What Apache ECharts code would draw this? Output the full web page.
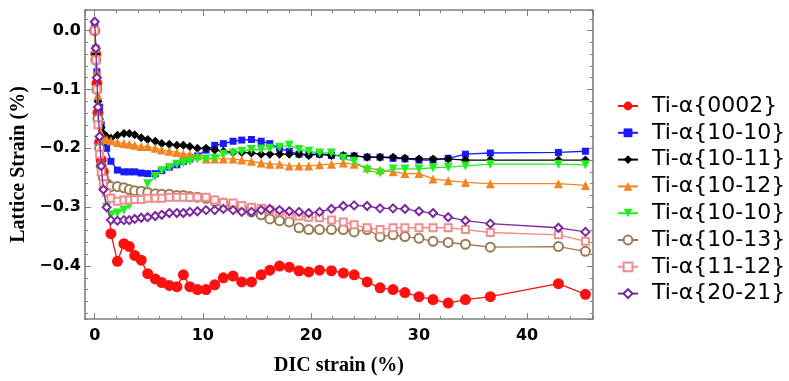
<!DOCTYPE html>
<html>
<head>
<meta charset="utf-8">
<script src="https://cdn.jsdelivr.net/npm/echarts@6/dist/echarts.min.js"></script>
<style>
  html, body { margin: 0; padding: 0; background: #fff; }
  #chart { width: 789px; height: 381px; }
</style>
</head>
<body>
<div id="chart"></div>
<script>
// DIC strain (%) at each measurement step, shared by all reflections
const strain = [0, 0.1, 0.2, 0.3, 0.45, 0.6, 0.8, 1.1,
  1.5, 2.1, 2.7, 3.2, 3.7, 4.3, 4.9, 5.6,
  6.2, 6.9, 7.6, 8.2, 8.8, 9.5, 10.3, 11.1,
  11.9, 12.8, 13.6, 14.5, 15.4, 16.2, 17.1, 18.0,
  18.9, 19.8, 20.8, 21.9, 23.0, 24.0, 25.2, 26.4,
  27.6, 28.7, 30.0, 31.3, 32.7, 34.3, 36.6, 42.9,
  45.4];

// Lattice strain (%) per reflection
const ti0002 = [0, -0.04, -0.09, -0.14, -0.19, -0.22, -0.24, -0.26,
  -0.345, -0.392, -0.362, -0.367, -0.382, -0.39, -0.413, -0.422,
  -0.428, -0.433, -0.435, -0.415, -0.435, -0.44, -0.44, -0.432,
  -0.42, -0.417, -0.427, -0.427, -0.415, -0.407, -0.4, -0.402,
  -0.408, -0.41, -0.407, -0.408, -0.412, -0.415, -0.427, -0.437,
  -0.44, -0.445, -0.452, -0.457, -0.463, -0.457, -0.452, -0.43,
  -0.448];
const ti1010a = [0.01, -0.03, -0.07, -0.1, -0.13, -0.16, -0.19, -0.2,
  -0.222, -0.237, -0.24, -0.24, -0.24, -0.242, -0.243, -0.243,
  -0.238, -0.232, -0.228, -0.222, -0.218, -0.213, -0.203, -0.195,
  -0.192, -0.188, -0.186, -0.185, -0.188, -0.192, -0.2, -0.205,
  -0.21, -0.21, -0.21, -0.212, -0.213, -0.213, -0.215, -0.215,
  -0.217, -0.218, -0.22, -0.22, -0.217, -0.21, -0.208, -0.207,
  -0.205];
const ti1011 = [0, -0.04, -0.08, -0.12, -0.15, -0.165, -0.175, -0.18,
  -0.183, -0.178, -0.175, -0.175, -0.177, -0.182, -0.185, -0.188,
  -0.192, -0.193, -0.195, -0.195, -0.197, -0.2, -0.2, -0.203,
  -0.205, -0.207, -0.207, -0.208, -0.21, -0.21, -0.21, -0.21,
  -0.21, -0.212, -0.21, -0.212, -0.212, -0.213, -0.215, -0.215,
  -0.215, -0.217, -0.218, -0.218, -0.218, -0.22, -0.22, -0.22,
  -0.22];
const ti1012 = [0, -0.03, -0.07, -0.11, -0.15, -0.175, -0.183, -0.185,
  -0.187, -0.19, -0.192, -0.193, -0.195, -0.197, -0.197, -0.2,
  -0.203, -0.205, -0.207, -0.21, -0.21, -0.212, -0.218, -0.218,
  -0.218, -0.218, -0.22, -0.222, -0.225, -0.227, -0.227, -0.23,
  -0.23, -0.23, -0.228, -0.227, -0.225, -0.227, -0.233, -0.237,
  -0.24, -0.243, -0.243, -0.252, -0.255, -0.258, -0.26, -0.26,
  -0.263];
const ti1010b = [0, -0.05, -0.1, -0.15, -0.2, -0.24, -0.27, -0.3,
  -0.313, -0.31, -0.305, -0.297, -0.285, -0.275, -0.26, -0.248,
  -0.238, -0.233, -0.227, -0.225, -0.222, -0.218, -0.218, -0.217,
  -0.21, -0.208, -0.205, -0.202, -0.202, -0.2, -0.198, -0.195,
  -0.202, -0.205, -0.208, -0.208, -0.217, -0.222, -0.237, -0.242,
  -0.235, -0.235, -0.235, -0.233, -0.232, -0.23, -0.227, -0.227,
  -0.228];
const ti1013 = [0, -0.05, -0.1, -0.15, -0.2, -0.23, -0.25, -0.262,
  -0.265, -0.265, -0.267, -0.27, -0.272, -0.273, -0.275, -0.277,
  -0.278, -0.278, -0.28, -0.28, -0.282, -0.283, -0.285, -0.29,
  -0.293, -0.298, -0.303, -0.308, -0.313, -0.32, -0.323, -0.325,
  -0.335, -0.338, -0.338, -0.338, -0.338, -0.342, -0.338, -0.35,
  -0.347, -0.35, -0.353, -0.358, -0.36, -0.363, -0.368, -0.367,
  -0.375];
const ti1112 = [0, -0.05, -0.1, -0.16, -0.21, -0.24, -0.26, -0.275,
  -0.285, -0.29, -0.288, -0.288, -0.287, -0.287, -0.285, -0.285,
  -0.285, -0.283, -0.283, -0.283, -0.283, -0.283, -0.283, -0.288,
  -0.292, -0.293, -0.297, -0.3, -0.302, -0.305, -0.308, -0.312,
  -0.315, -0.317, -0.318, -0.322, -0.325, -0.33, -0.335, -0.338,
  -0.335, -0.335, -0.335, -0.335, -0.335, -0.338, -0.343, -0.347,
  -0.358];
const ti2021 = [0.015, -0.03, -0.08, -0.13, -0.18, -0.23, -0.27, -0.3,
  -0.322, -0.323, -0.322, -0.322, -0.32, -0.318, -0.317, -0.315,
  -0.313, -0.31, -0.31, -0.31, -0.308, -0.307, -0.305, -0.305,
  -0.303, -0.305, -0.308, -0.308, -0.305, -0.303, -0.305, -0.307,
  -0.308, -0.31, -0.308, -0.303, -0.298, -0.297, -0.298, -0.302,
  -0.302, -0.303, -0.307, -0.31, -0.317, -0.323, -0.328, -0.335,
  -0.342];

const seriesNames = ['Ti-α{0002}', 'Ti-α{10-10}', 'Ti-α{10-11}', 'Ti-α{10-12}',
  'Ti-α{10-10} ', 'Ti-α{10-13}', 'Ti-α{11-12}', 'Ti-α{20-21}'];
const seriesValues = [ti0002, ti1010a, ti1011, ti1012, ti1010b, ti1013, ti1112, ti2021];

const styles = [
  { color: '#ff1010', symbol: 'circle', size: 11 },
  { color: '#1a1aff', symbol: 'rect', size: 7 },
  { color: '#000000', symbol: 'diamond', size: 9 },
  { color: '#f5841f', symbol: 'triangle', size: 9 },
  { color: '#22ee22', symbol: 'triangle', size: 9, rotate: 180 },
  { color: '#9b7b56', symbol: 'emptyCircle', size: 9 },
  { color: '#f08c8c', symbol: 'emptyRect', size: 7 },
  { color: '#7a2a9e', symbol: 'emptyDiamond', size: 8 }
];

const frameColor = '#7f7f7f';
const tickFont = { fontFamily: 'DejaVu Sans', fontWeight: 'bold', fontSize: 16, color: '#000' };
const titleFont = { fontFamily: 'Liberation Serif', fontWeight: 'bold', fontSize: 20, color: '#000' };

function frameAxis(pos, opts) {
  return Object.assign({
    type: 'value',
    position: pos,
    axisLine: { show: true, onZero: false, lineStyle: { color: frameColor, width: 1.6 } },
    axisTick: { show: true, inside: true, length: 6, lineStyle: { color: frameColor, width: 1 } },
    axisLabel: { show: false },
    splitLine: { show: false }
  }, opts);
}
function minorAxis(pos, opts) {
  return Object.assign({
    type: 'value',
    position: pos,
    axisLine: { show: false, onZero: false },
    axisTick: { show: true, inside: true, length: 3, lineStyle: { color: frameColor, width: 1 } },
    axisLabel: { show: false },
    splitLine: { show: false }
  }, opts);
}

const xRange = { min: -0.9, max: 46.1 };
const yRange = { min: -0.49, max: 0.035 };

const chart = echarts.init(document.getElementById('chart'), null, { renderer: 'canvas' });
chart.setOption({
  animation: false,
  backgroundColor: '#fff',
  grid: { left: 85, top: 10, width: 508, height: 315 },
  legend: {
    orient: 'vertical',
    left: 612,
    top: 90,
    itemWidth: 20,
    itemHeight: 11,
    itemGap: 4.8,
    data: seriesNames,
    textStyle: { fontFamily: 'DejaVu Sans', fontSize: 22, lineHeight: 22, color: '#000', padding: [0, 0, 0, 9] }
  },
  xAxis: [
    frameAxis('bottom', Object.assign({}, xRange, {
      splitNumber: 5,
      axisLabel: Object.assign({ show: true, margin: 9, showMinLabel: false, showMaxLabel: false }, tickFont),
      name: 'DIC strain (%)',
      nameLocation: 'middle',
      nameGap: 37,
      nameTextStyle: titleFont
    })),
    minorAxis('bottom', Object.assign({}, xRange, { splitNumber: 23 })),
    frameAxis('top', Object.assign({}, xRange, { splitNumber: 5 })),
    minorAxis('top', Object.assign({}, xRange, { splitNumber: 23 }))
  ],
  yAxis: [
    frameAxis('left', Object.assign({}, yRange, {
      splitNumber: 5,
      axisLabel: Object.assign({
        show: true, margin: 4, showMinLabel: false, showMaxLabel: false,
        formatter: v => (v < 0 ? '\u2212' : '') + Math.abs(v).toFixed(1)
      }, tickFont),
      name: 'Lattice Strain (%)',
      nameLocation: 'middle',
      nameRotate: 90,
      nameGap: 55,
      nameTextStyle: titleFont
    })),
    minorAxis('left', Object.assign({}, yRange, { splitNumber: 26 })),
    frameAxis('right', Object.assign({}, yRange, { splitNumber: 5 })),
    minorAxis('right', Object.assign({}, yRange, { splitNumber: 26 }))
  ],
  series: seriesValues.map((vals, i) => {
    const s = styles[i];
    return {
      name: seriesNames[i],
      type: 'line',
      xAxisIndex: 0,
      yAxisIndex: 0,
      z: 2 + i,
      data: strain.map((x, k) => [x, vals[k]]),
      symbol: s.symbol,
      symbolSize: s.size,
      symbolRotate: s.rotate || 0,
      showAllSymbol: true,
      lineStyle: { color: s.color, width: 1.3 },
      itemStyle: { color: s.color, borderColor: s.color, borderWidth: s.symbol.startsWith('empty') ? 1.2 : 0 },
      emphasis: { disabled: true }
    };
  })
});
</script>
</body>
</html>
